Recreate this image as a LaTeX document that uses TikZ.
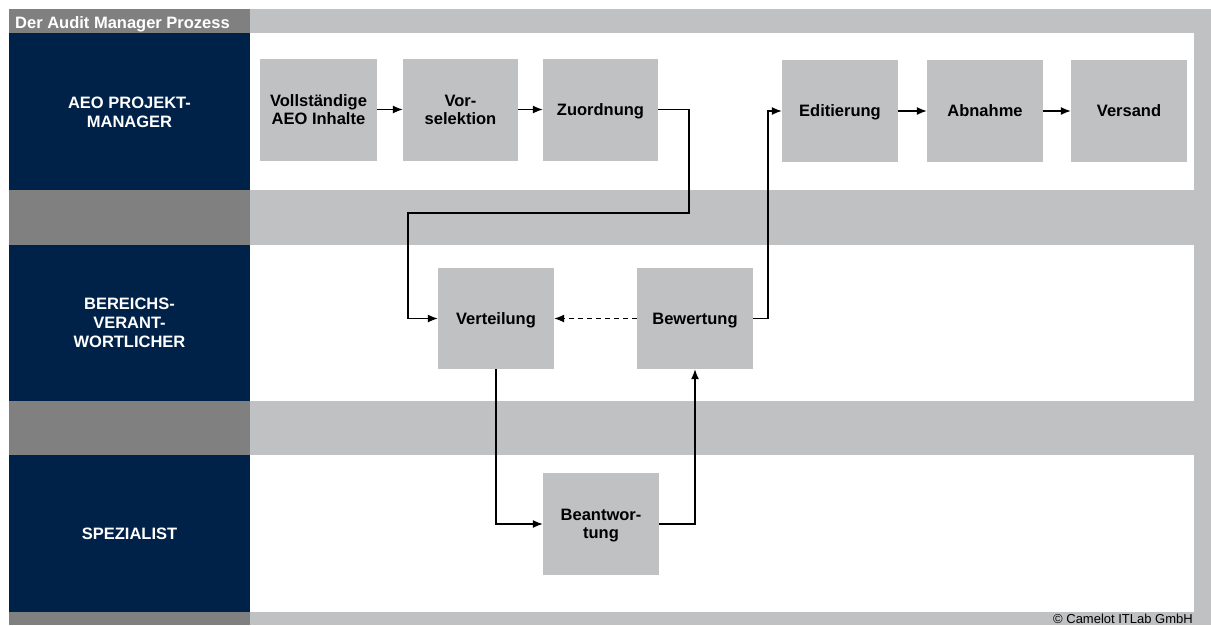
\documentclass[tikz,border=0pt]{standalone}
\usepackage{fontspec}
\setmainfont{Liberation Sans}
\usetikzlibrary{arrows.meta}
\definecolor{navy}{RGB}{0,34,72}
\definecolor{dgray}{RGB}{128,128,128}
\definecolor{lgray}{RGB}{192,193,195}
\tikzset{
  procbox/.style={rectangle, fill=lgray, minimum width=116pt, minimum height=102pt, inner sep=2pt, text depth=0pt, align=center, font=\fontsize{16.5}{18}\selectfont\bfseries, text=black},
  lanelabel/.style={align=center, font=\fontsize{16.5}{19}\selectfont\bfseries, text=white},
  flow/.style={line width=1.3pt, -{Latex[length=10pt,width=8pt]}},
}
\begin{document}
\begin{tikzpicture}[x=1pt,y=-1pt]
\useasboundingbox (0,0) rectangle (1211,625);
\fill[white] (0,0) rectangle (1211,625);
% background frame
\fill[lgray] (250,9) rectangle (1211,625);
\fill[dgray] (9,9) rectangle (250,33);
\node[anchor=base west, inner sep=0pt, font=\fontsize{16.5}{19}\selectfont\bfseries, text=white] (title) at (15,28.5) {Der Audit Manager Prozess};
% white lanes
\fill[white] (250,33) rectangle (1194,190);
\fill[white] (250,245) rectangle (1194,401);
\fill[white] (250,455) rectangle (1194,612);
% left column
\fill[navy] (9,33) rectangle (250,190);
\fill[dgray] (9,190) rectangle (250,245);
\fill[navy] (9,245) rectangle (250,401);
\fill[dgray] (9,401) rectangle (250,455);
\fill[navy] (9,455) rectangle (250,612);
\fill[dgray] (9,612) rectangle (250,625);
\node[lanelabel] (l1) at (129.5,112) {AEO PROJEKT-\\MANAGER};
\node[lanelabel] (l2) at (129.5,323) {BEREICHS-\\VERANT-\\WORTLICHER};
\node[lanelabel] (l3) at (129.5,534) {SPEZIALIST};
% copyright
\node[anchor=base east, font=\fontsize{13}{15}\selectfont, text=black, inner sep=0pt] (copy) at (1193,623.5) {© Camelot ITLab GmbH};
% boxes
\node[procbox, minimum width=117pt] (v1) at (318.5,109.5) {Vollständige\\AEO Inhalte};
\node[procbox, minimum width=115pt] (v2) at (460.5,109.5) {Vor-\\selektion};
\node[procbox, minimum width=115pt] (v3) at (600.5,109.5) {Zuordnung};
\node[procbox] (ed) at (840,111) {Editierung};
\node[procbox] (ab) at (985,111) {Abnahme};
\node[procbox] (vs) at (1129,111) {Versand};
\node[procbox, minimum height=101pt] (vt) at (496,318.5) {Verteilung};
\node[procbox, minimum height=101pt] (bw) at (695,318.5) {Bewertung};
\node[procbox] (ba) at (601,524) {Beantwor-\\tung};
% connectors
\coordinate (z1) at (689,213);
\coordinate (z2) at (408,213);
\coordinate (c1) at (768,318.5);
\draw[flow] (v1.east) -- (v2.west);
\draw[flow] (v2.east) -- (v3.west);
\draw[flow] (v3.east) -| (z1) -- (z2) |- (vt.west);
\draw[flow] (bw.east) -- (c1) |- (ed.west);
\draw[flow] (ed.east) -- (ab.west);
\draw[flow] (ab.east) -- (vs.west);
\draw[flow, dash pattern=on 5pt off 4pt] (bw.west) -- (vt.east);
\draw[flow] (vt.south) |- (ba.west);
\draw[flow] (ba.east) -| (bw.south);
\end{tikzpicture}
\end{document}
